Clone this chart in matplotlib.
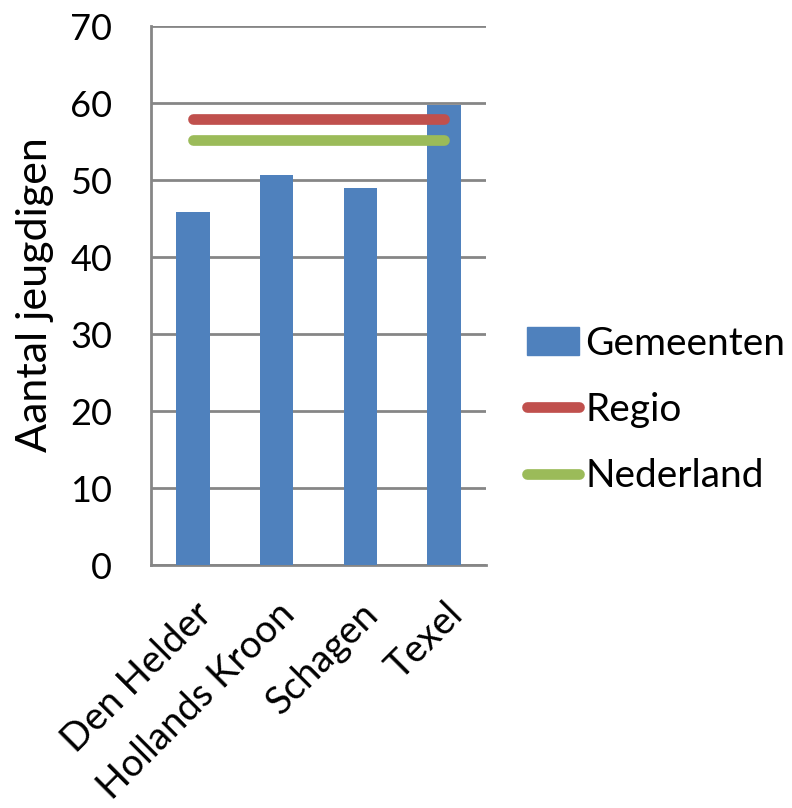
import matplotlib
matplotlib.use("Agg")
import matplotlib.pyplot as plt
from matplotlib.lines import Line2D
from matplotlib.patches import Patch

gemeenten = ["Den Helder", "Hollands Kroon", "Schagen", "Texel"]
waarden = [45.8, 50.6, 49.0, 59.7]
regio = 57.9
nederland = 55.2

blauw = "#4f81bd"
rood = "#c0504d"
groen = "#9bbb59"
grijs = "#868686"

plt.rcParams["font.family"] = ["Lato", "DejaVu Sans"]

fig = plt.figure(figsize=(7.92, 8.08), dpi=100)
ax = fig.add_axes([0.1907, 0.3007, 0.4230, 0.6671])

x = list(range(len(gemeenten)))
ax.bar(x, waarden, width=0.4, color=blauw, zorder=3)
ax.plot([x[0], x[-1]], [regio, regio], color=rood, lw=7.7,
        solid_capstyle="round", zorder=4)
ax.plot([x[0], x[-1]], [nederland, nederland], color=groen, lw=7.7,
        solid_capstyle="round", zorder=4)

ax.set_xlim(-0.5, len(gemeenten) - 0.5)
ax.set_ylim(0, 70)
ax.set_yticks(range(0, 71, 10))
ax.yaxis.grid(True, color=grijs, lw=2, zorder=0)
ax.set_axisbelow(True)
for s in ["top", "right"]:
    ax.spines[s].set_visible(False)
for s in ["left", "bottom"]:
    ax.spines[s].set_color(grijs)
    ax.spines[s].set_linewidth(2)
ax.tick_params(axis="y", length=0, labelsize=26, pad=28)
ax.tick_params(axis="x", length=0, labelsize=27.5, pad=22)
ax.set_xticks(x)
ax.set_xticklabels(gemeenten, rotation=45, ha="right", rotation_mode="anchor")
fig.text(35 / 792, 0.635, "Aantal jeugdigen", rotation=90, fontsize=31,
         ha="center", va="center")

handles = [Patch(color=blauw),
           Line2D([], [], color=rood, lw=7.7, solid_capstyle="round"),
           Line2D([], [], color=groen, lw=7.7, solid_capstyle="round")]
fig.legend(handles, ["Gemeenten", "Regio", "Nederland"], loc="center left",
           bbox_to_anchor=(0.665, 0.4926), frameon=False, fontsize=28,
           handlelength=1.34, handletextpad=0.16, labelspacing=0.78,
           borderpad=0, borderaxespad=0)

fig.savefig("out.png", dpi=100)
